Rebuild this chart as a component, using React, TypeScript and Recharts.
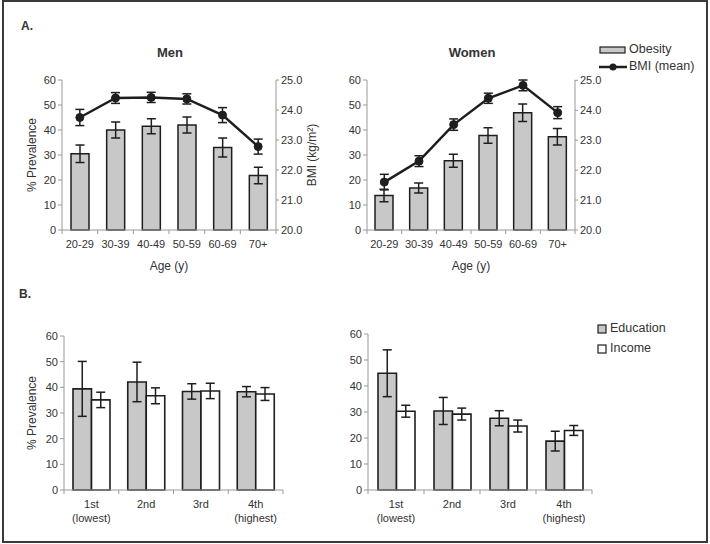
import { Bar, ComposedChart, ErrorBar, Legend, Line, XAxis, YAxis } from 'recharts'

const AGES = ['20-29', '30-39', '40-49', '50-59', '60-69', '70+']
const MEN_OBESITY = [30.5, 40, 41.5, 42, 33, 21.8]
const MEN_OBESITY_ERR = [3.5, 3.2, 3, 3.2, 3.8, 3.3]
const MEN_BMI = [23.75, 24.4, 24.42, 24.37, 23.83, 22.78]
const MEN_BMI_ERR = [0.27, 0.18, 0.17, 0.17, 0.25, 0.25]
const WOMEN_OBESITY = [13.8, 16.8, 27.7, 37.8, 46.9, 37.3]
const WOMEN_OBESITY_ERR = [2.5, 2, 2.6, 3.1, 3.5, 3.3]
const WOMEN_BMI = [21.6, 22.3, 23.52, 24.4, 24.83, 23.92]
const WOMEN_BMI_ERR = [0.26, 0.18, 0.19, 0.17, 0.18, 0.2]

const QUARTILES = ['1st', '2nd', '3rd', '4th']
const QUARTILE_NOTES = ['(lowest)', '', '', '(highest)']
const MEN_EDU = [39.4, 42.1, 38.4, 38.3]
const MEN_EDU_ERR = [10.7, 7.7, 3, 2]
const MEN_INC = [35.1, 36.7, 38.6, 37.4]
const MEN_INC_ERR = [3, 3.1, 3, 2.5]
const WOMEN_EDU = [44.9, 30.4, 27.6, 18.8]
const WOMEN_EDU_ERR = [9, 5.2, 2.9, 3.8]
const WOMEN_INC = [30.3, 29.2, 24.6, 22.9]
const WOMEN_INC_ERR = [2.3, 2.3, 2.3, 1.9]

const PCT_TICKS = [0, 10, 20, 30, 40, 50, 60]
const BMI_TICKS = [20, 21, 22, 23, 24, 25]

const FONT = '"Liberation Sans", Arial, sans-serif'
const TEXT = '#333'
const AXIS = '#999'
const INK = '#1e1e1e'
const GRAY = '#c8c8c8'

const ageRows = (ob: number[], obErr: number[], bmi: number[], bmiErr: number[]) =>
  AGES.map((age, i) => ({ age, obesity: ob[i], obErr: obErr[i], bmi: bmi[i], bmiErr: bmiErr[i] }))

const quartileRows = (edu: number[], eduErr: number[], inc: number[], incErr: number[]) =>
  QUARTILES.map((q, i) => ({ q, note: QUARTILE_NOTES[i], edu: edu[i], eduErr: eduErr[i], inc: inc[i], incErr: incErr[i] }))

// category label at the centre, tick marks on the category boundaries (Excel style)
function makeTick(step: number, count: number, notes?: string[]) {
  return (props: any) => {
    const { x, y, payload, index } = props
    return (
      <g>
        <line x1={x - step / 2} y1={y} x2={x - step / 2} y2={y + 4} stroke={AXIS} />
        {index === count - 1 && <line x1={x + step / 2} y1={y} x2={x + step / 2} y2={y + 4} stroke={AXIS} />}
        <text x={x} y={y + 18} textAnchor="middle" fill={TEXT} fontSize={11} fontFamily={FONT}>
          {payload.value}
        </text>
        {notes && notes[index] && (
          <text x={x} y={y + 32} textAnchor="middle" fill={TEXT} fontSize={11} fontFamily={FONT}>
            {notes[index]}
          </text>
        )}
      </g>
    )
  }
}

const vLabel = (text: string, dx: number) => (props: any) => {
  const { viewBox } = props
  const cx = viewBox.x + dx
  const cy = viewBox.y + viewBox.height / 2
  return (
    <text x={cx} y={cy} transform={`rotate(-90 ${cx} ${cy})`} textAnchor="middle" dominantBaseline="middle" fill={TEXT} fontSize={12} fontFamily={FONT}>
      {text}
    </text>
  )
}

const tickStyle = { fill: TEXT, fontSize: 11, fontFamily: FONT }

function AgePanel({ rows, left, width, margin, plotWidth, showLabel, legend }: any) {
  return (
    <div style={{ position: 'absolute', left, top: 0 }}>
      <ComposedChart width={width} height={280} data={rows} margin={margin}>
        <XAxis
          dataKey="age"
          axisLine={{ stroke: AXIS }}
          tickLine={false}
          tickSize={0}
          tickMargin={0}
          height={50}
          interval={0}
          tick={makeTick(plotWidth / AGES.length, AGES.length)}
          label={{ value: 'Age (y)', position: 'insideBottom', offset: 10, fill: TEXT, fontSize: 12, fontFamily: FONT }}
        />
        <YAxis
          yAxisId="pct"
          domain={[0, 60]}
          ticks={PCT_TICKS}
          width={40}
          tickSize={4}
          axisLine={{ stroke: AXIS }}
          tickLine={{ stroke: AXIS }}
          tick={tickStyle}
          label={showLabel ? { content: vLabel('% Prevalence', 11) } : undefined}
        />
        <YAxis
          yAxisId="bmi"
          orientation="right"
          domain={[20, 25]}
          ticks={BMI_TICKS}
          width={64}
          tickSize={3}
          axisLine={{ stroke: AXIS }}
          tickLine={{ stroke: AXIS }}
          tick={tickStyle}
          tickFormatter={(v: number) => v.toFixed(1)}
          label={showLabel ? { content: vLabel('BMI (kg/m²)', 37) } : undefined}
        />
        <Bar yAxisId="pct" dataKey="obesity" fill={GRAY} stroke={INK} strokeWidth={1.5} barSize={18} isAnimationActive={false}>
          <ErrorBar dataKey="obErr" width={4.5} stroke={INK} strokeWidth={1.5} />
        </Bar>
        <Line
          yAxisId="bmi"
          dataKey="bmi"
          stroke={INK}
          strokeWidth={2.5}
          dot={{ r: 4, fill: INK, stroke: INK, strokeWidth: 1 }}
          isAnimationActive={false}
        >
          <ErrorBar dataKey="bmiErr" width={4.5} stroke={INK} strokeWidth={1.5} />
        </Line>
        {legend}
      </ComposedChart>
    </div>
  )
}

function QuartilePanel({ rows, left, width, margin, plotWidth, showLabel, legend }: any) {
  return (
    <div style={{ position: 'absolute', left, top: 290 }}>
      <ComposedChart width={width} height={254} data={rows} margin={margin} barGap={0}>
        <XAxis
          dataKey="q"
          axisLine={{ stroke: AXIS }}
          tickLine={false}
          tickSize={0}
          tickMargin={0}
          height={54}
          interval={0}
          tick={makeTick(plotWidth / QUARTILES.length, QUARTILES.length, QUARTILE_NOTES)}
        />
        <YAxis
          domain={[0, 60]}
          ticks={PCT_TICKS}
          width={40}
          tickSize={4}
          axisLine={{ stroke: AXIS }}
          tickLine={{ stroke: AXIS }}
          tick={tickStyle}
          label={showLabel ? { content: vLabel('% Prevalence', 9) } : undefined}
        />
        <Bar dataKey="edu" fill={GRAY} stroke={INK} strokeWidth={1.6} barSize={18.5} isAnimationActive={false}>
          <ErrorBar dataKey="eduErr" width={4.5} stroke={INK} strokeWidth={1.5} />
        </Bar>
        <Bar dataKey="inc" fill="#fff" stroke={INK} strokeWidth={1.6} barSize={18.5} isAnimationActive={false}>
          <ErrorBar dataKey="incErr" width={4.5} stroke={INK} strokeWidth={1.5} />
        </Bar>
        {legend}
      </ComposedChart>
    </div>
  )
}

const legendText = { fill: TEXT, fontSize: 12.5, fontFamily: FONT, dominantBaseline: 'middle' as const }

const AgeLegend = () => (
  <svg width={112} height={40}>
    <rect x={2} y={9} width={25} height={6} fill={GRAY} stroke={INK} strokeWidth={1.2} />
    <text x={31} y={12} {...legendText}>Obesity</text>
    <line x1={1} y1={29} x2={29} y2={29} stroke={INK} strokeWidth={2.5} />
    <circle cx={15} cy={29} r={3.5} fill={INK} />
    <text x={31} y={29} {...legendText}>BMI (mean)</text>
  </svg>
)

const QuartileLegend = () => (
  <svg width={90} height={40}>
    <rect x={2} y={5} width={8} height={8} fill={GRAY} stroke={INK} strokeWidth={1.2} />
    <text x={14} y={9} {...legendText}>Education</text>
    <rect x={2} y={25} width={8} height={8} fill="#fff" stroke={INK} strokeWidth={1.2} />
    <text x={14} y={29} {...legendText}>Income</text>
  </svg>
)

const title = (text: string, x: number, y: number, bold = true, size = 13) => (
  <div
    style={{
      position: 'absolute',
      left: x,
      top: y,
      transform: 'translate(-50%, -50%)',
      fontFamily: FONT,
      fontSize: size,
      fontWeight: bold ? 700 : 400,
      color: TEXT,
      whiteSpace: 'nowrap',
    }}
  >
    {text}
  </div>
)

export default function App() {
  return (
    <div style={{ position: 'absolute', left: 0, top: 0, width: 710, height: 544, background: '#fff', overflow: 'hidden' }}>
      <div style={{ position: 'absolute', left: 2, top: 0, width: 706, height: 543, border: '2px solid #3a3a3a', boxSizing: 'border-box' }} />
      {title('A.', 27, 26, true, 12)}
      {title('Men', 170, 52)}
      {title('Women', 472, 52)}
      {title('B.', 25, 294, true, 12)}

      <AgePanel
        rows={ageRows(MEN_OBESITY, MEN_OBESITY_ERR, MEN_BMI, MEN_BMI_ERR)}
        left={0}
        width={340}
        plotWidth={214}
        margin={{ top: 80, right: 0, bottom: 0, left: 22 }}
        showLabel
      />
      <AgePanel
        rows={ageRows(WOMEN_OBESITY, WOMEN_OBESITY_ERR, WOMEN_BMI, WOMEN_BMI_ERR)}
        left={300}
        width={410}
        plotWidth={208}
        margin={{ top: 80, right: 71, bottom: 0, left: 27 }}
        legend={
          <Legend
            layout="vertical"
            align="center"
            verticalAlign="middle"
            content={() => <AgeLegend />}
            wrapperStyle={{ left: 298, top: 38, width: 112, height: 40 }}
          />
        }
      />
      <QuartilePanel
        rows={quartileRows(MEN_EDU, MEN_EDU_ERR, MEN_INC, MEN_INC_ERR)}
        left={0}
        width={340}
        plotWidth={219}
        margin={{ top: 46, right: 57, bottom: 0, left: 24 }}
        showLabel
      />
      <QuartilePanel
        rows={quartileRows(WOMEN_EDU, WOMEN_EDU_ERR, WOMEN_INC, WOMEN_INC_ERR)}
        left={300}
        width={410}
        plotWidth={224}
        margin={{ top: 44, right: 118, bottom: 0, left: 28 }}
        legend={
          <Legend
            layout="vertical"
            align="center"
            verticalAlign="middle"
            content={() => <QuartileLegend />}
            wrapperStyle={{ left: 296, top: 30, width: 90, height: 40 }}
          />
        }
      />
    </div>
  )
}
